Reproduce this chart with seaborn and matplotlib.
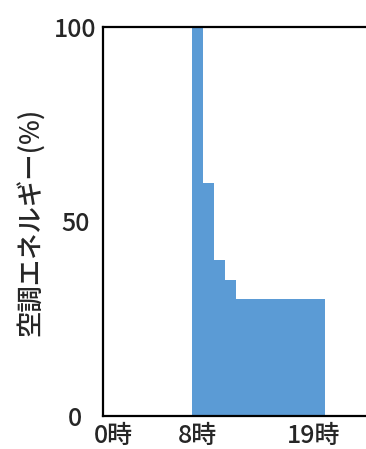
import pandas as pd
import matplotlib
matplotlib.use("Agg")
import matplotlib.pyplot as plt
import seaborn as sns

# hourly air-conditioning energy (%), hour = start of the hour
hours = [8, 9, 10, 11, 12, 13, 14, 15, 16, 17, 18, 19]
energy = [100, 60, 40, 35, 30, 30, 30, 30, 30, 30, 30, 30]

xtick_pos = [1, 8.5, 19]
xtick_labels = ['0時', '8時', '19時']
ytick_pos = [0, 50, 100]

df = pd.DataFrame({'hour': hours, 'energy': energy})

sns.set_theme(style="white")
plt.rcParams['font.family'] = ['Noto Sans CJK JP', 'DejaVu Sans']

fig = plt.figure(figsize=(3.66, 4.49), dpi=100)
ax = fig.add_axes([0.281, 0.0735, 0.727, 0.8665])

sns.histplot(data=df, x='hour', weights='energy', binwidth=1, binrange=(8, 20),
             element="step", fill=True, color="#5B9BD5", alpha=1,
             linewidth=0, ax=ax)

ax.set_xlim(0, 24)
ax.set_ylim(0, 100)
ax.set_xticks(xtick_pos)
ax.set_xticklabels(xtick_labels, fontsize=18, fontweight='medium')
ax.set_yticks(ytick_pos)
ax.set_yticklabels([str(v) for v in ytick_pos], fontsize=18, fontweight='medium')
for lab in ax.get_yticklabels():
    lab.set_horizontalalignment('center')
ax.tick_params(axis='y', length=0, pad=20)
ax.tick_params(axis='x', length=0, pad=5)
ax.set_xlabel('')
ax.set_ylabel('空調エネルギー(%)', fontsize=19, fontweight='medium', labelpad=6)

for side in ['left', 'bottom', 'top']:
    ax.spines[side].set_color('black')
    ax.spines[side].set_linewidth(1.6)
ax.spines['right'].set_visible(False)

fig.savefig('out.png', dpi=100)
